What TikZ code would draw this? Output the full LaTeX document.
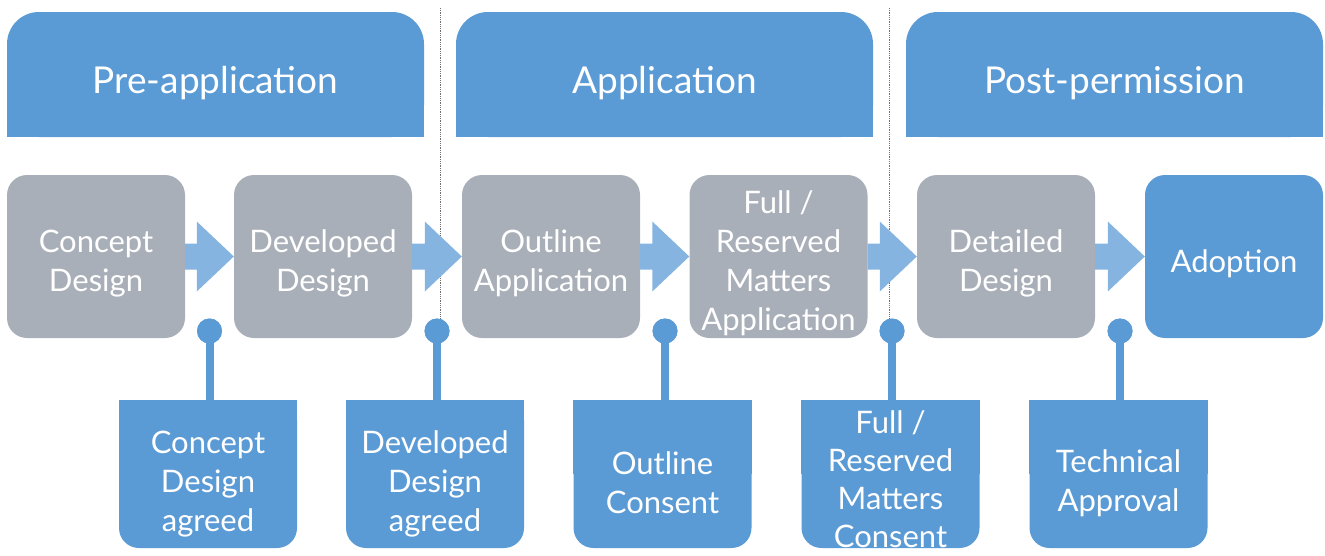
\documentclass[tikz,border=0pt]{standalone}
\usepackage{fontspec}
\setmainfont{Lato}
\usetikzlibrary{calc}
\definecolor{mblue}{HTML}{5B9BD5}
\definecolor{mgrey}{HTML}{A9AFB8}
\definecolor{marrow}{HTML}{85B4E0}
\definecolor{mdot}{HTML}{707070}
\pgfdeclarelayer{background}
\pgfsetlayers{background,main}
\begin{document}
\begin{tikzpicture}[x=1pt,y=-1pt,
  headshape/.style={fill=mblue, rounded corners=32pt, minimum width=417pt, minimum height=125pt, inner sep=0pt},
  headtext/.style={text=white, inner sep=0pt, font=\fontsize{37}{44}\selectfont},
  steptext/.style={text=white, align=center, inner sep=0pt, yshift=-7pt, font=\fontsize{31}{39}\selectfont},
  stepbox/.style={fill=mgrey, rounded corners=20pt, minimum width=178pt, minimum height=163pt, inner sep=0pt,
    label={[steptext]center:#1}},
  endbox/.style={stepbox=#1, fill=mblue},
  gateshape/.style={fill=mblue, rounded corners=20pt, minimum width=178pt, minimum height=148pt, inner sep=0pt},
  gatetext/.style={text=white, align=center, inner sep=0pt, font=\fontsize{31}{39}\selectfont},
  pin/.style={circle, fill=mblue, minimum size=25pt, inner sep=0pt},
  stem/.style={draw=mblue, line width=8pt},
  flow/.style={fill=marrow},
  divider/.style={draw=mdot, line width=0.8pt, densely dotted}
]
\useasboundingbox (0,0) rectangle (1325,555);

% headers
\node[headshape] (hs1) at (215.5,74.5) {};
\node[headshape] (hs2) at (664.5,74.5) {};
\node[headshape] (hs3) at (1114.5,74.5) {};
\begin{pgfonlayer}{background}
\foreach \n in {hs1,hs2,hs3}
  \fill[mblue] (\n.west) rectangle (\n.south east);
\end{pgfonlayer}
\node[headtext] (h1) at (215.5,83) {Pre-application};
\node[headtext] (h2) at (664.5,83) {Application};
\node[headtext] (h3) at (1114.5,83) {Post-permission};

% dividers
\coordinate (d1a) at (440.5,8);
\coordinate (d1b) at (440.5,320);
\coordinate (d2a) at (889.5,8);
\coordinate (d2b) at (889.5,320);
\draw[divider] (d1a) -- (d1b);
\draw[divider] (d2a) -- (d2b);

% process steps
\node[stepbox={Concept\\Design}] (p1) at (96,256.5) {};
\node[stepbox={Developed\\Design}] (p2) at (323,256.5) {};
\node[stepbox={Outline\\Application}] (p3) at (551,256.5) {};
\node[stepbox={Full /\\Reserved\\Matters\\Application}] (p4) at (778.5,256.5) {};
\node[stepbox={Detailed\\Design}] (p5) at (1006,256.5) {};
\node[endbox={Adoption}] (p6) at (1234,256.5) {};

% arrows
\foreach \a/\b in {p1/p2,p2/p3,p3/p4,p4/p5,p5/p6}
  \fill[flow] ($(\a.east)+(0,-13)$) -- ($(\b.west)+(-37,-13)$) -- ($(\b.west)+(-37,-35)$)
    -- (\b.west) -- ($(\b.west)+(-37,35)$) -- ($(\b.west)+(-37,13)$) -- ($(\a.east)+(0,13)$) -- cycle;

% gates
\node[gateshape] (g1) at (208,474) {};
\node[gateshape] (g2) at (435,474) {};
\node[gateshape] (g3) at (662.5,474) {};
\node[gateshape] (g4) at (890.5,474) {};
\node[gateshape] (g5) at (1118.5,474) {};
\begin{pgfonlayer}{background}
\foreach \n in {g1,g2,g3,g4,g5}
  \fill[mblue] (\n.north west) rectangle (\n.east);
\end{pgfonlayer}
\node[gatetext] (t1) at (208,484) {Concept\\Design\\agreed};
\node[gatetext] (t2) at (435,484) {Developed\\Design\\agreed};
\node[gatetext] (t3) at (662.5,483) {Outline\\Consent};
\node[gatetext, font=\fontsize{31}{38}\selectfont] (t4) at (890.5,479) {Full /\\Reserved\\Matters\\Consent};
\node[gatetext] (t5) at (1118.5,483) {Technical\\Approval};

% pins
\node[pin] (c1) at (209.5,331) {};
\node[pin] (c2) at (437,331) {};
\node[pin] (c3) at (665,331) {};
\node[pin] (c4) at (892,331) {};
\node[pin] (c5) at (1120,331) {};
\foreach \i in {1,...,5}
  \draw[stem] (c\i.center) -- (c\i |- g\i.north);
\foreach \i in {1,...,5}
  \node[pin] at (c\i) {};
\end{tikzpicture}
\end{document}
